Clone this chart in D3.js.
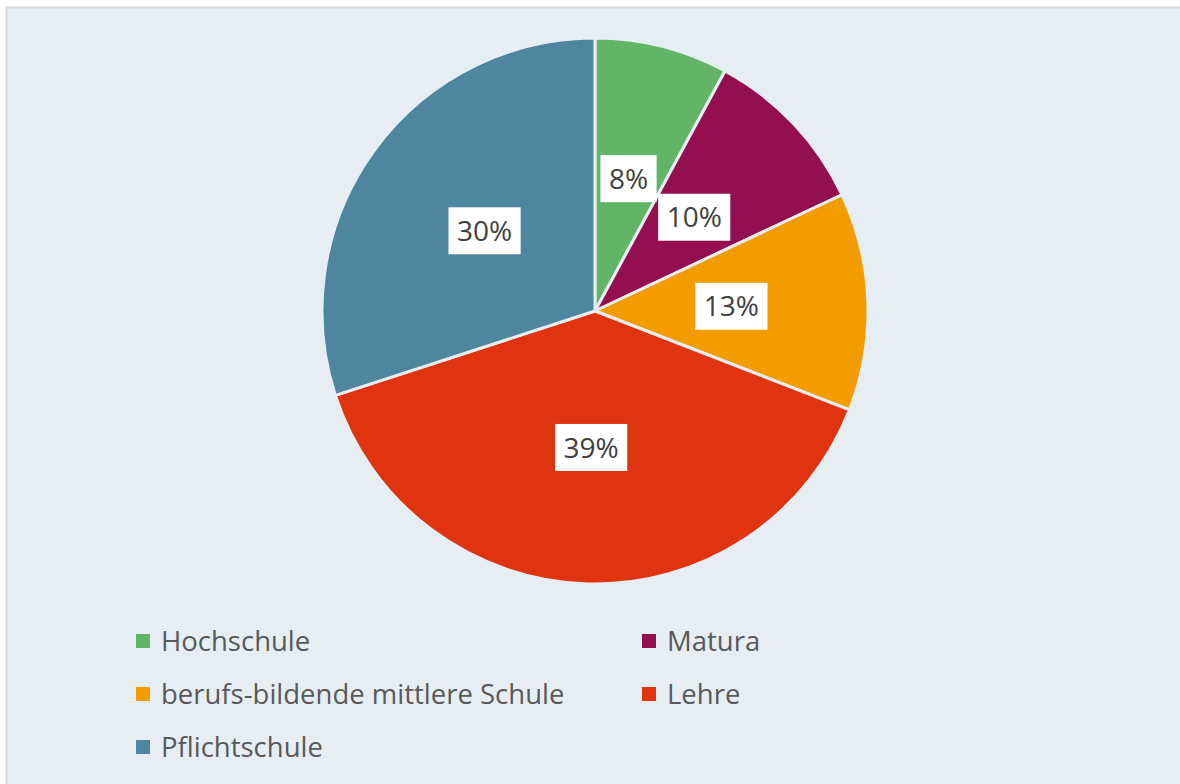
<!DOCTYPE html>
<html>
<head>
<meta charset="utf-8">
<script src="https://d3js.org/d3.v7.min.js"></script>
<style>
    body { margin: 0; background: #ffffff; }
    svg { display: block; }
</style>
</head>
<body>
<div id="chart"></div>
<script>
    // Data
    var categories = ["Hochschule", "Matura", "berufs-bildende mittlere Schule", "Lehre", "Pflichtschule"];
    var values = [7.9, 10.1, 12.9, 39.1, 30.0];
    var colors = ["#62b566", "#930f4f", "#f39c00", "#e0330f", "#4e86a0"];

    var width = 1180, height = 784;
    var cx = 595, cy = 311, radius = 273;

    var svg = d3.select("#chart")
        .append("svg")
        .attr("width", width)
        .attr("height", height);

    // Chart area with thin grey frame
    svg.append("rect")
        .attr("x", 6.5)
        .attr("y", 7.5)
        .attr("width", width + 10)
        .attr("height", height + 10)
        .attr("fill", "#e6eef4")
        .attr("stroke", "#d9d9d9")
        .attr("stroke-width", 2);

    var color = d3.scaleOrdinal().domain(categories).range(colors);

    var pie = d3.pie().sort(null).value(function (d) { return d.value; });
    var arc = d3.arc().innerRadius(0).outerRadius(radius);

    var data = categories.map(function (c, i) { return { name: c, value: values[i] }; });
    var total = d3.sum(values);

    var g = svg.append("g").attr("transform", "translate(" + cx + "," + cy + ")");

    var slices = pie(data);

    g.selectAll("path")
        .data(slices)
        .enter()
        .append("path")
        .attr("d", arc)
        .attr("fill", function (d) { return color(d.data.name); })
        .attr("stroke", "#e6eef4")
        .attr("stroke-width", 3)
        .attr("stroke-linejoin", "round");

    // Percentage labels in white boxes at the slice centroid
    var fmt = function (v) { return Math.round(v / total * 100) + "%"; };
    var labels = g.selectAll("g.lbl")
        .data(slices)
        .enter()
        .append("g")
        .attr("class", "lbl")
        .attr("transform", function (d) { return "translate(" + arc.centroid(d) + ")"; });

    labels.append("text")
        .attr("text-anchor", "middle")
        .attr("dy", "0.36em")
        .style("font-family", "'Open Sans', sans-serif")
        .style("font-size", "28px")
        .style("fill", "#404040")
        .text(function (d) { return fmt(d.data.value); });

    labels.each(function () {
        var t = d3.select(this).select("text");
        var w = t.node().getComputedTextLength() + 17;
        d3.select(this).insert("rect", "text")
            .attr("x", -w / 2)
            .attr("y", -23.5)
            .attr("width", w)
            .attr("height", 47)
            .attr("fill", "#ffffff");
    });

    // Legend, two columns
    var legendX = [136, 642], legendY = [641, 694, 747];
    var legend = svg.selectAll("g.leg")
        .data(categories)
        .enter()
        .append("g")
        .attr("class", "leg")
        .attr("transform", function (d, i) {
            return "translate(" + legendX[i % 2] + "," + legendY[Math.floor(i / 2)] + ")";
        });

    legend.append("rect")
        .attr("x", 0)
        .attr("y", -7)
        .attr("width", 14)
        .attr("height", 14)
        .attr("fill", function (d) { return color(d); });

    legend.append("text")
        .attr("x", 25)
        .attr("dy", "0.36em")
        .style("font-family", "'Open Sans', sans-serif")
        .style("font-size", "27.5px")
        .style("fill", "#595959")
        .text(function (d) { return d; });
</script>
</body>
</html>
